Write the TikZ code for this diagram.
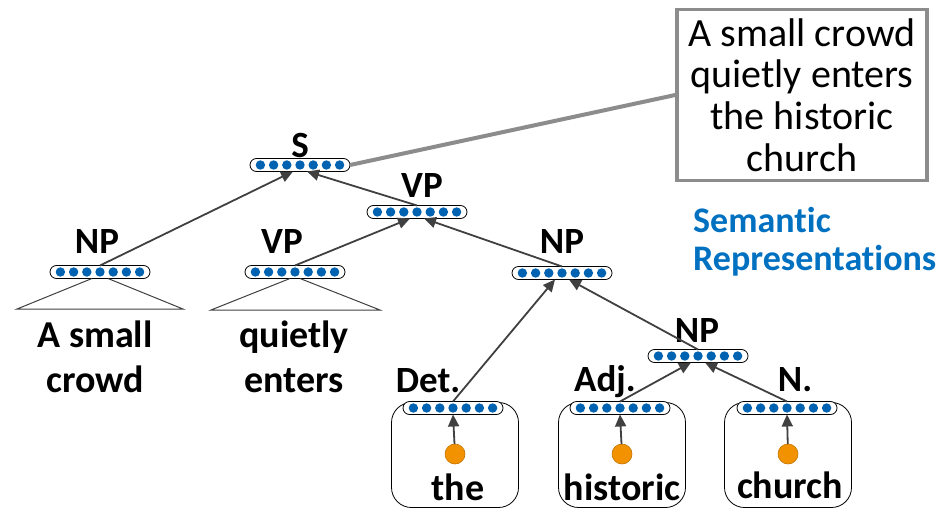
\documentclass[tikz,border=0pt]{standalone}
\usepackage{fontspec}
\setmainfont{Carlito}[Ligatures=NoCommon]
\usetikzlibrary{arrows.meta}
\definecolor{dotblue}{HTML}{0063B1}
\definecolor{textblue}{HTML}{0070C0}
\definecolor{leaforange}{HTML}{F39200}
\definecolor{edgegray}{HTML}{404040}

\begin{document}
\begin{tikzpicture}[x=1pt,y=-1pt]
  \useasboundingbox (0,0) rectangle (949,508);

  %Styles for picture
  \tikzset
  {
  vector/.style={draw, rounded corners=6.5, inner sep=0pt, outer sep=0pt, minimum width=100, minimum height=13, fill=white, line width=0.8},
  bluedot/.style={fill=dotblue},
  leaf/.style={circle, inner sep=0pt, outer sep=0pt, minimum size=20, fill=leaforange, draw=leaforange!80!black, line width=0.6},
  wordbox/.style={draw, rounded corners=20, inner sep=0pt, minimum width=127, minimum height=105, line width=0.8},
  tag/.style={font=\fontsize{37}{40}\selectfont\bfseries, anchor=base, inner sep=0pt},
  word/.style={font=\fontsize{38}{45}\selectfont\bfseries, anchor=base, align=center, inner sep=0pt},
  branch/.style={-{Triangle[length=12,width=11]}, draw=edgegray, line width=1.8},
  tri/.style={draw=edgegray, line width=1},
  gist/.style={draw=gray!90, line width=4},
  sentbox/.style={draw=gray!90, line width=3.5, inner sep=0pt, minimum width=250, minimum height=171, align=center, font=\fontsize{40}{41.7}\selectfont},
  }

  % Word boxes
  \node[wordbox] (b1) at (455,455) {};
  \node[wordbox] (b2) at (622,455) {};
  \node[wordbox] (b3) at (788,455) {};

  % Nodes
  \node[vector] (s) at (300,165) {};
  \node[vector] (vp) at (417,212) {};
  \node[vector] (np1) at (100,272) {};
  \node[vector] (vp1) at (295,272) {};
  \node[vector] (np2) at (562,273) {};
  \node[vector] (np3) at (698,356) {};
  \node[vector] (det) at (453,408) {};
  \node[vector] (adj) at (620,408) {};
  \node[vector] (noun) at (787,408) {};

  \foreach \v in {s,vp,np1,vp1,np2,np3,det,adj,noun}
    \foreach \i in {-3,...,3}
      \fill[bluedot] (\v.center) ++(\i*13.2,0) circle (4.7);

  \node[leaf] (w1) at (455,454) {};
  \node[leaf] (w2) at (622,454) {};
  \node[leaf] (w3) at (788,454) {};

  % Labels
  \node[tag] (ls) at (300,157) {S};
  \node[tag] (lvp) at (422,197) {VP};
  \node[tag] (lnp1) at (97,253) {NP};
  \node[tag] (lvp1) at (282,253) {VP};
  \node[tag] (lnp2) at (562,253) {NP};
  \node[tag] (lnp3) at (697,342) {NP};
  \node[tag] (ldet) at (428,392) {Det.};
  \node[tag] (ladj) at (605,391) {Adj.};
  \node[tag] (lnoun) at (795,391) {N.};

  % Words
  \node[word] (t1) at (95,392) {A small\\crowd};
  \node[word] (t2) at (294,392) {quietly\\enters};
  \node[word] (t3) at (458,500) {the};
  \node[word] (t4) at (622,500) {historic};
  \node[word] (t5) at (790,498) {church};

  % Sentence and caption
  \node[sentbox] (sent) at (802,95) {A small crowd\\quietly enters\\the historic\\church};
  \node[font=\fontsize{36}{38}\selectfont\bfseries, text=textblue, align=left, anchor=base west, inner sep=0pt] (cap) at (693,270) {Semantic\\Representations};

  % Triangles
  \coordinate (t1l) at (17,309);
  \coordinate (t1r) at (183,309);
  \coordinate (t2l) at (211,310);
  \coordinate (t2r) at (380,310);
  \draw[tri] ([xshift=-8]np1.south) -- (t1l) -- (t1r) -- ([xshift=8]np1.south);
  \draw[tri] ([xshift=-5]vp1.south) -- (t2l) -- (t2r) -- ([xshift=5]vp1.south);

  % Edges
  \draw[branch] (np1.north) -- ([xshift=-7]s.south);
  \draw[branch] (vp.north) -- ([xshift=7]s.south);
  \draw[branch] (vp1.north) -- ([xshift=-7]vp.south);
  \draw[branch] (np2.north) -- ([xshift=7]vp.south);
  \draw[branch] (det.north) -- ([xshift=-7]np2.south);
  \draw[branch] (np3.north) -- ([xshift=7]np2.south);
  \draw[branch] (adj.north) -- ([xshift=-7]np3.south);
  \draw[branch] (noun.north) -- ([xshift=7]np3.south);
  \draw[branch] (w1) -- (det.south);
  \draw[branch] (w2) -- (adj.south);
  \draw[branch] (w3) -- (noun.south);
  \draw[gist] (s.east) -- (sent.west);
\end{tikzpicture}
\end{document}
